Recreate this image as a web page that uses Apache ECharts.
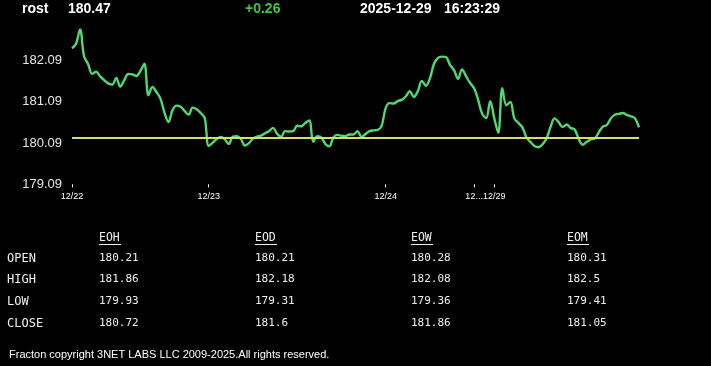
<!DOCTYPE html>
<html>
<head>
<meta charset="utf-8">
<script src="https://cdn.jsdelivr.net/npm/echarts@6/dist/echarts.min.js"></script>
<style>
html,body{margin:0;padding:0;background:#000;}
#chart{width:711px;height:366px;}
</style>
</head>
<body>
<div id="chart"></div>
<script>
// ---- header ----
const symbol = 'rost';
const lastPrice = 180.47;
const change = 0.26;
const dateStr = '2025-12-29';
const timeStr = '16:23:29';

// ---- x axis: trading days and number of samples per day ----
const dayLabels = ['12/22', '12/23', '12/24', '12/26', '12/29'];
const dayCounts = [34, 44, 22, 5, 37];

// ---- y axis ----
const yMin = 179.09;
const yMax = 183.09;
const yStep = 1;

// ---- price series ----
const prices = [
  182.39, 182.50, 182.85, 182.20, 182.01, 181.77, 181.82, 181.71, 181.62, 181.54,
  181.51, 181.67, 181.46, 181.62, 181.77, 181.76, 181.72, 181.84, 182.02, 181.25,
  181.45, 181.33, 181.17, 180.83, 180.60, 180.89, 181.00, 180.97, 180.87, 180.78,
  180.95, 180.91, 180.82, 180.70,
  180.02, 180.10, 180.19, 180.24, 180.18, 180.07, 180.25, 180.26, 180.19, 180.03,
  180.09, 180.20, 180.25, 180.27, 180.33, 180.38, 180.46, 180.32, 180.24, 180.38,
  180.37, 180.38, 180.51, 180.50, 180.58, 180.64, 180.12, 180.26, 180.23, 180.07,
  180.01, 180.23, 180.29, 180.27, 180.26, 180.30, 180.30, 180.38, 180.24, 180.31,
  180.38, 180.40, 180.41, 180.51,
  180.94, 181.06, 181.05, 181.11, 181.14, 181.22, 181.35, 181.21, 181.35, 181.60,
  181.48, 181.66, 182.01, 182.16, 182.19, 182.18, 181.99, 181.86, 181.65, 181.88,
  181.71, 181.55,
  181.42, 181.14, 180.80, 180.70, 181.11,
  180.70, 180.34, 181.42, 181.01, 181.09, 180.69, 180.58, 180.47, 180.23, 180.12,
  180.02, 179.99, 180.06, 180.20, 180.48, 180.69, 180.60, 180.48, 180.54, 180.46,
  180.42, 180.19, 180.05, 180.12, 180.18, 180.20, 180.35, 180.49, 180.53, 180.69,
  180.78, 180.80, 180.82, 180.77, 180.74, 180.69, 180.47
];

// ---- summary table ----
const rowNames = ['OPEN', 'HIGH', 'LOW', 'CLOSE'];
const colNames = ['EOH', 'EOD', 'EOW', 'EOM'];
const eoh = [180.21, 181.86, 179.93, 180.72];
const eod = [180.21, 182.18, 179.31, 181.6];
const eow = [180.28, 182.08, 179.36, 181.86];
const eom = [180.31, 182.5, 179.41, 181.05];

const footer = 'Fracton copyright 3NET LABS LLC 2009-2025.All rights reserved.';

// ---- build ----
const prevClose = +(lastPrice - change).toFixed(2);
const categories = [];
const starts = new Set();
dayLabels.forEach((d, i) => {
  starts.add(categories.length);
  for (let j = 0; j < dayCounts[i]; j++) categories.push(d);
});
// labels crowded by the next day's label get truncated (like the original)
const startList = Array.from(starts);
const catData = categories.map((c, idx) => {
  const si = startList.indexOf(idx);
  if (si >= 0 && si < startList.length - 1 && startList[si + 1] - idx < 8) {
    return { value: c, textStyle: { width: 19, overflow: 'truncate', ellipsis: '...' } };
  }
  return c;
});

const chart = echarts.init(document.getElementById('chart'), null, { renderer: 'canvas' });

const graphics = [];
const hdrFont = 'bold 14px "Liberation Sans", Arial, sans-serif';
function hdr(x, text, color) {
  graphics.push({ type: 'text', left: x, top: 2, style: { text: text, fill: color, font: hdrFont } });
}
hdr(22, symbol, '#ffffff');
hdr(68, lastPrice.toFixed(2), '#ffffff');
hdr(245, (change >= 0 ? '+' : '') + change.toFixed(2), '#3ec83e');
hdr(360, dateStr, '#ffffff');
hdr(444, timeStr, '#ffffff');

const colX = [99, 255, 411, 567];
const rowY = [259, 280, 302, 324];
const cols = [eoh, eod, eow, eom];
const mono = '"DejaVu Sans Mono", "Liberation Mono", monospace';
colNames.forEach((n, i) => {
  graphics.push({ type: 'text', x: colX[i], y: 238, style: { text: n, fill: '#f0f0f0', font: '11.5px ' + mono, verticalAlign: 'middle' } });
  graphics.push({ type: 'line', shape: { x1: colX[i], y1: 244.5, x2: colX[i] + 22, y2: 244.5 }, style: { stroke: '#f0f0f0', lineWidth: 1 } });
});
rowNames.forEach((r, j) => {
  graphics.push({ type: 'text', x: 7, y: rowY[j], style: { text: r, fill: '#f0f0f0', font: '12px ' + mono, verticalAlign: 'middle' } });
  cols.forEach((c, i) => {
    graphics.push({ type: 'text', x: colX[i], y: rowY[j] - 1, style: { text: String(c[j]), fill: '#f0f0f0', font: '11px ' + mono, verticalAlign: 'middle' } });
  });
});
graphics.push({ type: 'text', x: 9, y: 355, style: { text: footer, fill: '#ffffff', font: '11px "Liberation Sans", Arial, sans-serif', verticalAlign: 'middle' } });

const option = {
  backgroundColor: '#000000',
  animation: false,
  grid: { left: 72, right: 72, top: 19.5, bottom: 181.7 },
  xAxis: {
    type: 'category',
    data: catData,
    boundaryGap: false,
    axisLine: { show: false },
    axisTick: {
      show: true, length: 3,
      interval: (i) => starts.has(i),
      lineStyle: { color: '#ffffff', width: 1 }
    },
    axisLabel: {
      interval: (i) => starts.has(i),
      color: '#ffffff',
      fontSize: 9,
      fontFamily: '"Liberation Sans", Arial, sans-serif',
      margin: 8,
      hideOverlap: false
    },
    splitLine: { show: false }
  },
  yAxis: {
    type: 'value',
    min: yMin, max: yMax, interval: yStep,
    axisLine: { show: false },
    axisTick: { show: false },
    splitLine: { show: false },
    axisLabel: {
      color: '#e6e6e6',
      fontSize: 13,
      fontFamily: '"Liberation Sans", Arial, sans-serif',
      margin: 10,
      showMaxLabel: false,
      formatter: (v) => v.toFixed(2)
    }
  },
  series: [{
    type: 'line',
    data: prices,
    smooth: 0.35,
    symbol: 'none',
    lineStyle: { color: '#50d872', width: 2.4 },
    markLine: {
      silent: true,
      symbol: 'none',
      label: { show: false },
      lineStyle: { color: '#d8dc6c', width: 2, type: 'solid' },
      data: [{ yAxis: prevClose }]
    },
    z: 3
  }],
  graphic: graphics
};
chart.setOption(option);
</script>
</body>
</html>
